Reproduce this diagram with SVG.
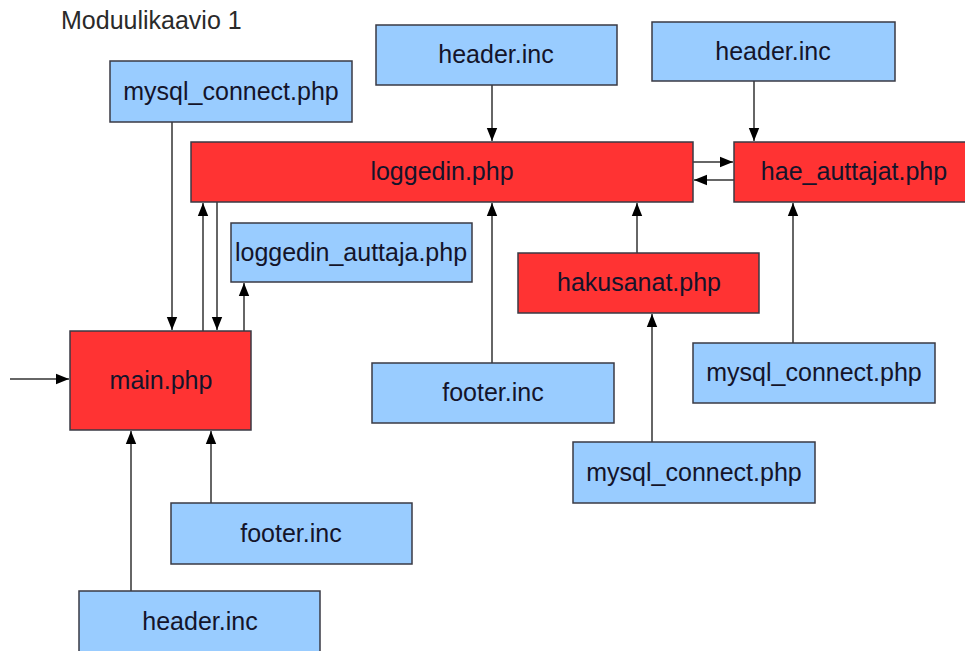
<svg xmlns="http://www.w3.org/2000/svg" width="965" height="651" viewBox="0 0 965 651">
  <style>
    .box rect { stroke: #3a3a44; stroke-width: 1.5; }
    .inc rect { fill: #99ccff; }
    .php rect { fill: #ff3333; }
    .box text { font-family: "Liberation Sans", Arial, sans-serif; font-size: 25px; fill: #14142a; text-anchor: middle; }
    .title { font-family: "Liberation Sans", Arial, sans-serif; font-size: 25px; fill: #2a2a2a; }
    #connectors line { stroke: #333; stroke-width: 1.5; marker-end: url(#arrow); }
  </style>
  <defs>
    <marker id="arrow" viewBox="0 0 10 10" refX="10" refY="5" markerWidth="13" markerHeight="13" markerUnits="userSpaceOnUse" orient="auto">
      <path d="M0,1 L10,5 L0,9 z" fill="#000"/>
    </marker>
  </defs>
  <rect width="965" height="651" fill="#fff"/>

  <text class="title" x="61" y="29">Moduulikaavio 1</text>

  <!-- connectors -->
  <g id="connectors">
    <line x1="10" y1="379" x2="69" y2="379"/>
    <line x1="172" y1="122" x2="172" y2="330"/>
    <line x1="203" y1="331" x2="203" y2="203"/>
    <line x1="217" y1="202" x2="217" y2="330"/>
    <line x1="244" y1="331" x2="244" y2="283"/>
    <line x1="131" y1="591" x2="131" y2="431"/>
    <line x1="211" y1="503" x2="211" y2="431"/>
    <line x1="492" y1="85" x2="492" y2="141"/>
    <line x1="754" y1="81" x2="754" y2="141"/>
    <line x1="693" y1="162" x2="733" y2="162"/>
    <line x1="734" y1="180" x2="694" y2="180"/>
    <line x1="492" y1="363" x2="492" y2="203"/>
    <line x1="637" y1="253" x2="637" y2="203"/>
    <line x1="652" y1="442" x2="652" y2="314"/>
    <line x1="793" y1="343" x2="793" y2="203"/>
  </g>

  <!-- nodes -->
  <g id="mysql_connect_main" class="box inc">
    <rect x="110" y="61" width="242" height="61"/>
    <text x="231" y="100">mysql_connect.php</text>
  </g>
  <g id="header_loggedin" class="box inc">
    <rect x="376" y="25" width="241" height="60"/>
    <text x="496" y="63">header.inc</text>
  </g>
  <g id="header_hae" class="box inc">
    <rect x="652" y="22" width="243" height="59"/>
    <text x="773" y="60">header.inc</text>
  </g>
  <g id="loggedin" class="box php">
    <rect x="191" y="142" width="502" height="60"/>
    <text x="442" y="180">loggedin.php</text>
  </g>
  <g id="hae_auttajat" class="box php">
    <rect x="734" y="142" width="240" height="60"/>
    <text x="854" y="180">hae_auttajat.php</text>
  </g>
  <g id="loggedin_auttaja" class="box inc">
    <rect x="231" y="223" width="241" height="59"/>
    <text x="351" y="261">loggedin_auttaja.php</text>
  </g>
  <g id="hakusanat" class="box php">
    <rect x="518" y="253" width="241" height="60"/>
    <text x="639" y="291">hakusanat.php</text>
  </g>
  <g id="main" class="box php">
    <rect x="70" y="331" width="181" height="99"/>
    <text x="161" y="389">main.php</text>
  </g>
  <g id="footer_loggedin" class="box inc">
    <rect x="372" y="363" width="242" height="60"/>
    <text x="493" y="401">footer.inc</text>
  </g>
  <g id="mysql_connect_hae" class="box inc">
    <rect x="693" y="343" width="242" height="60"/>
    <text x="814" y="381">mysql_connect.php</text>
  </g>
  <g id="mysql_connect_hakusanat" class="box inc">
    <rect x="573" y="442" width="242" height="61"/>
    <text x="694" y="481">mysql_connect.php</text>
  </g>
  <g id="footer_main" class="box inc">
    <rect x="171" y="503" width="241" height="61"/>
    <text x="291" y="542">footer.inc</text>
  </g>
  <g id="header_main" class="box inc">
    <rect x="79" y="591" width="241" height="62"/>
    <text x="200" y="630">header.inc</text>
  </g>
</svg>
